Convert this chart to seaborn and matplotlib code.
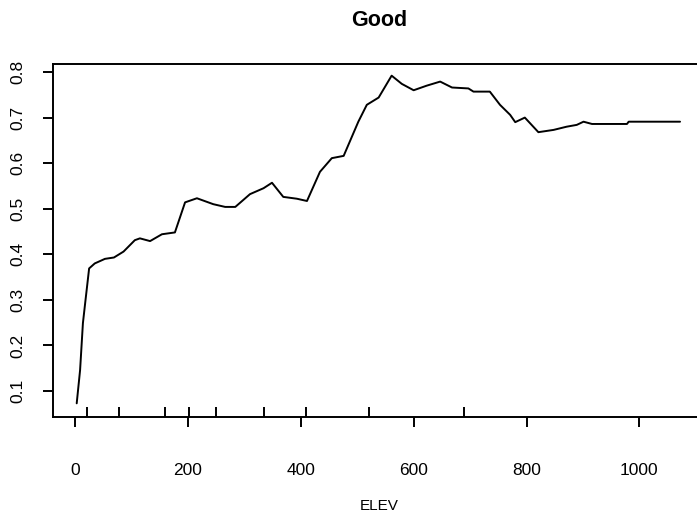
import matplotlib
matplotlib.use("Agg")
import matplotlib.pyplot as plt
import seaborn as sns
import pandas as pd

# Partial dependence of "Good" on elevation
elev = [3, 9, 14, 18, 25, 35, 53, 69, 86, 106, 115, 133, 154, 177, 195, 216,
        245, 266, 284, 310, 334, 349, 369, 393, 411, 434, 455, 476, 502, 517,
        538, 561, 579, 600, 623, 647, 668, 697, 706, 735, 753, 771, 780, 797,
        809, 821, 848, 871, 889, 901, 916, 978, 981, 1072]
good = [0.073, 0.146, 0.249, 0.293, 0.369, 0.380, 0.390, 0.393, 0.406, 0.431,
        0.435, 0.429, 0.444, 0.448, 0.514, 0.523, 0.510, 0.504, 0.504, 0.532,
        0.545, 0.557, 0.526, 0.522, 0.517, 0.581, 0.611, 0.616, 0.691, 0.728,
        0.744, 0.792, 0.774, 0.760, 0.770, 0.779, 0.766, 0.764, 0.757, 0.757,
        0.728, 0.706, 0.690, 0.700, 0.684, 0.668, 0.673, 0.680, 0.684, 0.691,
        0.686, 0.686, 0.691, 0.691]

# Deciles of ELEV shown as a rug
elev_deciles = [21, 78, 160, 202, 249, 334, 409, 521, 689]

x_ticks = [0, 200, 400, 600, 800, 1000]
y_ticks = [0.1, 0.2, 0.3, 0.4, 0.5, 0.6, 0.7, 0.8]

sns.set_style("white")
plt.rcParams["font.family"] = ["Liberation Sans", "DejaVu Sans"]

df = pd.DataFrame({"ELEV": elev, "Good": good})

fig = plt.figure(figsize=(6.97, 5.17), dpi=100)
ax = fig.add_axes([53 / 697, 1 - 417 / 517, (706 - 53) / 697, 353 / 517])

sns.lineplot(data=df, x="ELEV", y="Good", ax=ax, color="black",
             linewidth=1.4, sort=False)
sns.rugplot(x=elev_deciles, ax=ax, height=10 / 353, color="black",
            linewidth=1.4)

ax.set_xlim(-39, 1118)
ax.set_ylim(0.043, 0.8176)
ax.set_xticks(x_ticks)
ax.set_xticklabels([str(v) for v in x_ticks])
ax.set_yticks(y_ticks)
ax.set_yticklabels([f"{v:.1f}" for v in y_ticks], rotation=90, va="center")

for side in ["left", "top", "bottom"]:
    ax.spines[side].set_visible(True)
    ax.spines[side].set_color("black")
    ax.spines[side].set_linewidth(1.4)
ax.spines["right"].set_visible(False)

ax.tick_params(axis="both", which="major", direction="out", length=7,
               width=1.4, color="black", labelsize=12.5, labelcolor="black")
ax.tick_params(axis="x", pad=26, bottom=True)
ax.tick_params(axis="y", pad=13, left=True)

ax.set_xlabel("ELEV", fontsize=11, color="black")
ax.xaxis.set_label_coords(0.5, -0.232)
ax.set_ylabel("")

ax.set_title("Good", fontsize=15.5, fontweight="bold", color="black",
             y=1.108, pad=0)

fig.savefig("out.png", dpi=100)
